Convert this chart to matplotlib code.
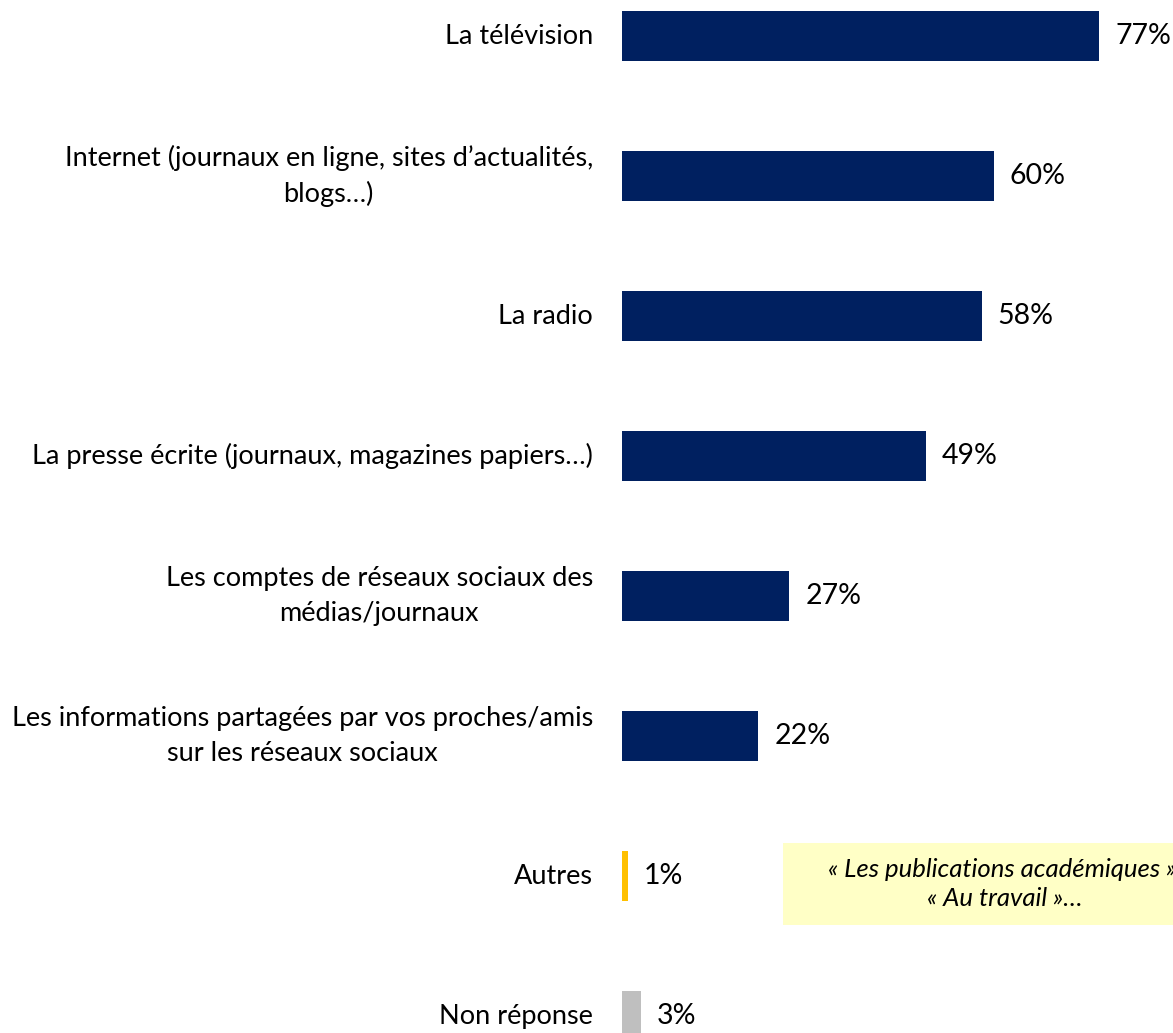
import matplotlib
matplotlib.use("Agg")
import matplotlib.pyplot as plt
from matplotlib.patches import Rectangle

# ── data ───────────────────────────────────────────────────────────────
labels = [
    "La télévision",
    "Internet (journaux en ligne, sites d\u2019actualités,\nblogs\u2026)",
    "La radio",
    "La presse écrite (journaux, magazines papiers\u2026)",
    "Les comptes de réseaux sociaux des\nmédias/journaux",
    "Les informations partagées par vos proches/amis\nsur les réseaux sociaux",
    "Autres",
    "Non réponse",
]
values = [77, 60, 58, 49, 27, 22, 1, 3]
colors = ["#002060"] * 6 + ["#FFC000", "#BFBFBF"]
note = "\u00ab Les publications académiques \u00bb,\n\u00ab Au travail \u00bb\u2026"

plt.rcParams["font.family"] = ["Lato", "DejaVu Sans"]
FS = 19.5

W, H = 1173, 1033
fig = plt.figure(figsize=(W / 100, H / 100), dpi=100)

# axes: x=0 at px 622, 6.2 px per %, bar centres every 140 px starting at 36
x0_px, px_per = 622, 6.2
ax = fig.add_axes([x0_px / W, 0, (W - x0_px) / W, 1])
ax.set_xlim(0, (W - x0_px) / px_per)
ax.set_ylim((H - 36) / 140, -36 / 140)
ax.axis("off")

ypos = list(range(len(values)))
ax.barh(ypos, values, height=50 / 140, color=colors)

for y, v, lab in zip(ypos, values, labels):
    ax.annotate(f"{v}%", (v, y), xytext=(11.5, 0), textcoords="offset points",
                ha="left", va="center", fontsize=FS + 1, color="#000000")
    ax.annotate(lab, (0, y), xytext=(-21, 0), textcoords="offset points",
                ha="right", va="center", multialignment="center",
                fontsize=FS, color="#000000", linespacing=1.5,
                annotation_clip=False)

# yellow note box (clipped at right edge, as in the original)
fig.patches.append(Rectangle((783 / W, 1 - 925 / H), (W - 783) / W + 0.05, 82 / H,
                             transform=fig.transFigure, facecolor="#FFFFC6",
                             edgecolor="none", zorder=0))
fig.text(1005 / W, 1 - 884 / H, note, ha="center", va="center",
         fontsize=FS - 1, style="italic", linespacing=1.3)

fig.savefig("out.png", dpi=100)
